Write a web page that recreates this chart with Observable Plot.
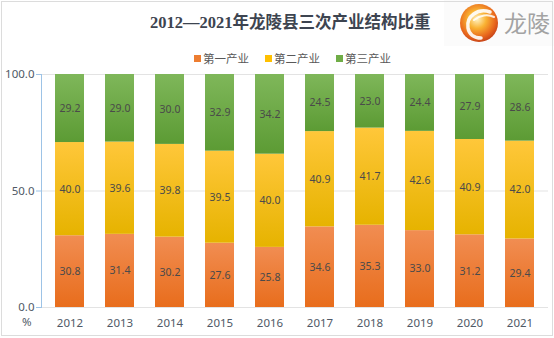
<!DOCTYPE html>
<html>
<head>
<meta charset="utf-8">
<script src="https://cdn.jsdelivr.net/npm/d3@7"></script>
<script src="https://cdn.jsdelivr.net/npm/@observablehq/plot@0.6"></script>
<style>
  html, body { margin: 0; padding: 0; background: #fff; }
  #wrap { position: relative; width: 554px; height: 338px; overflow: hidden; font-family: "Noto Sans", "Noto Sans CJK SC", sans-serif; }
  #frame { position: absolute; left: 1px; top: 1px; width: 550px; height: 333px; border: 1px solid #dcdcdc; box-sizing: content-box; pointer-events: none; }
  #chart { position: absolute; left: 0; top: 0; }
  #title { position: absolute; left: 150px; top: 9px; width: 272px; text-align: center; font-family: "Liberation Serif", "Noto Sans CJK SC", serif; font-weight: bold; font-size: 16.5px; color: #3d4450; white-space: nowrap; }
  #legend { position: absolute; top: 50px; left: 194px; display: flex; font-size: 11.5px; color: #595959; font-family: "Noto Sans CJK SC", sans-serif; }
  #legend .item { display: flex; align-items: center; width: 71px; }
  #legend .sw { width: 7px; height: 7px; margin-right: 2px; }
  #pct { position: absolute; left: 22px; top: 314px; font-size: 11.5px; color: #4f5966; }
  #logo { position: absolute; left: 444px; top: 0; }
</style>
</head>
<body>
<div id="wrap">
  <div id="chart"></div>
  <div id="title">2012—2021年龙陵县三次产业结构比重</div>
  <div id="legend"></div>
  <div id="pct">%</div>
  <svg id="logo" width="110" height="48">
    <defs>
      <radialGradient id="lg" cx="45%" cy="40%" r="60%">
        <stop offset="0%" stop-color="#fff3c4"/>
        <stop offset="40%" stop-color="#f9b233"/>
        <stop offset="80%" stop-color="#e8661c"/>
        <stop offset="100%" stop-color="#c9461a"/>
      </radialGradient>
    </defs>
    <rect x="0" y="0" width="110" height="46" fill="#fbfbfb"/>
    <circle cx="35" cy="23" r="19" fill="url(#lg)"/>
    <path d="M46 12 C34 8, 22 16, 24 28 C25 34, 30 38, 37 38" fill="none" stroke="#fff" stroke-width="3.5" stroke-linecap="round" opacity="0.9"/>
    <path d="M30 20 C36 15, 44 14, 50 17" fill="none" stroke="#fff" stroke-width="2" stroke-linecap="round" opacity="0.85"/>
    <text x="60" y="32" font-size="23" fill="#a3a3a3" font-family="Noto Sans CJK SC, sans-serif">龙陵</text>
  </svg>
  <div id="frame"></div>
</div>
<svg width="0" height="0" style="position:absolute">
  <defs>
    <linearGradient id="gOrange" x1="0" y1="0" x2="0" y2="1">
      <stop offset="0%" stop-color="#f18d52"/>
      <stop offset="100%" stop-color="#e86d1c"/>
    </linearGradient>
    <linearGradient id="gYellow" x1="0" y1="0" x2="0" y2="1">
      <stop offset="0%" stop-color="#ffc73a"/>
      <stop offset="100%" stop-color="#e6b300"/>
    </linearGradient>
    <linearGradient id="gGreen" x1="0" y1="0" x2="0" y2="1">
      <stop offset="0%" stop-color="#7fb75a"/>
      <stop offset="100%" stop-color="#5c9b34"/>
    </linearGradient>
  </defs>
</svg>
<script>
const years = ["2012","2013","2014","2015","2016","2017","2018","2019","2020","2021"];
const series = ["第一产业","第二产业","第三产业"];
const primary   = [30.8, 31.4, 30.2, 27.6, 25.8, 34.6, 35.3, 33.0, 31.2, 29.4];
const secondary = [40.0, 39.6, 39.8, 39.5, 40.0, 40.9, 41.7, 42.6, 40.9, 42.0];
const tertiary  = [29.2, 29.0, 30.0, 32.9, 34.2, 24.5, 23.0, 24.4, 27.9, 28.6];
const yTicks = [0, 50, 100];
const legendColors = ["#ed7d31", "#ffc000", "#70ad47"];
const gradients = ["url(#gOrange)", "url(#gYellow)", "url(#gGreen)"];

const seriesValues = [primary, secondary, tertiary];
const data = [];
series.forEach((s, i) => years.forEach((y, j) => data.push({year: y, series: s, value: seriesValues[i][j]})));

const chart = Plot.plot({
  width: 554,
  height: 338,
  marginTop: 74,
  marginBottom: 31,
  marginLeft: 41,
  marginRight: 6,
  style: {fontFamily: "Noto Sans, sans-serif", background: "transparent"},
  x: {domain: years, paddingInner: 0.42, paddingOuter: 0.21, label: null},
  y: {domain: [0, 100], label: null},
  color: {domain: series, range: gradients},
  marks: [
    Plot.ruleY(yTicks, {stroke: "#e3e3e3", strokeWidth: 1}),
    Plot.barY(data, {x: "year", y: "value", fill: "series", order: series}),
    Plot.text(data, Plot.stackY({x: "year", y: "value", z: "series", order: series,
      text: d => d.value.toFixed(1), fill: "#4a4a4a", fontSize: 10.5})),
    Plot.axisY({ticks: yTicks, tickFormat: d => d.toFixed(1), tickSize: 5, tickPadding: 2,
      stroke: "#9dc3e6", fill: "#4f5966", fontSize: 11.5, label: null}),
    Plot.frame({anchor: "left", stroke: "#9dc3e6"}),
    Plot.axisX({tickSize: 0, tickPadding: 11, fill: "#4f5966", fontSize: 11.5, label: null})
  ]
});
document.getElementById("chart").appendChild(chart);

const legend = document.getElementById("legend");
series.forEach((s, i) => {
  const item = document.createElement("div");
  item.className = "item";
  const sw = document.createElement("div");
  sw.className = "sw";
  sw.style.background = legendColors[i];
  const t = document.createElement("span");
  t.textContent = s;
  item.appendChild(sw); item.appendChild(t);
  legend.appendChild(item);
});
</script>
</body>
</html>
